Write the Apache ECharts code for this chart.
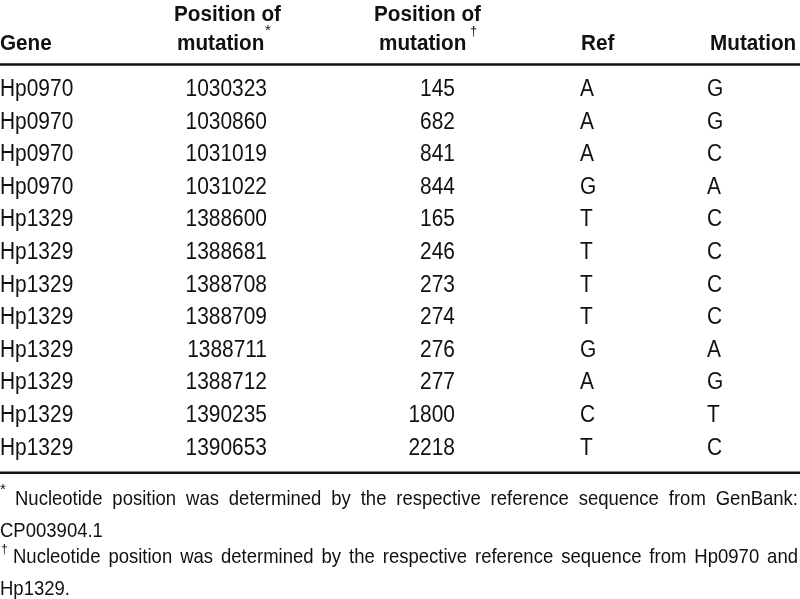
<!DOCTYPE html>
<html>
<head>
<meta charset="utf-8">
<script src="https://cdn.jsdelivr.net/npm/echarts@6/dist/echarts.min.js"></script>
<style>
html,body{margin:0;padding:0;background:#fff;}
#chart{width:800px;height:599px;}
</style>
</head>
<body>
<div id="chart"></div>
<script>
// ---- Data ----
const genes = ["Hp0970","Hp0970","Hp0970","Hp0970","Hp1329","Hp1329","Hp1329","Hp1329","Hp1329","Hp1329","Hp1329","Hp1329"];
const posGenome = [1030323,1030860,1031019,1031022,1388600,1388681,1388708,1388709,1388711,1388712,1390235,1390653];
const posGene = [145,682,841,844,165,246,273,274,276,277,1800,2218];
const refBase = ["A","A","A","G","T","T","T","T","G","A","C","T"];
const mutBase = ["G","G","C","A","C","C","C","C","A","G","T","C"];
const headers = ["Gene","Position of","mutation","Position of","mutation","Ref","Mutation"];
const footnote1 = ["Nucleotide position was determined by the respective reference sequence from GenBank:", "CP003904.1"];
const footnote2 = ["Nucleotide position was determined by the respective reference sequence from Hp0970 and", "Hp1329."];

// ---- Layout / style ----
const INK = '#111';
const FAM = '"Liberation Sans", Arial, sans-serif';
const BODY_FONT = '23.5px ' + FAM;
const BODY_SX = 0.89;
const HEAD_FONT = 'bold 22.5px ' + FAM;
const HEAD_SX = 0.92;
const NOTE_FONT = '20.8px ' + FAM;
const NOTE_SX = 0.89;

const chart = echarts.init(document.getElementById('chart'), null, {renderer:'canvas'});

function txt(text, x, y, font, sx, align) {
  return {type:'text', silent:true, x:x, y:y, scaleX:sx, scaleY:1,
    style:{text:String(text), x:0, y:0, font:font, fill:INK, align:align || 'left', verticalAlign:'middle'}};
}

const ctx = document.createElement('canvas').getContext('2d');
function justifyLine(text, x0, x1, y) {
  ctx.font = NOTE_FONT;
  const words = text.split(' ');
  const widths = words.map(w => ctx.measureText(w).width * NOTE_SX);
  const total = widths.reduce((a,b)=>a+b,0);
  const gap = (x1 - x0 - total) / (words.length - 1);
  const out = [];
  let x = x0;
  words.forEach((w, k) => {
    out.push(txt(w, x, y, NOTE_FONT, NOTE_SX, 'left'));
    x += widths[k] + gap;
  });
  return out;
}

const graphics = [
  // rules
  {type:'line', silent:true, shape:{x1:0, y1:64.5, x2:800, y2:64.5}, style:{stroke:INK, lineWidth:2.6}},
  {type:'line', silent:true, shape:{x1:0, y1:472.8, x2:800, y2:472.8}, style:{stroke:INK, lineWidth:2.6}},
  // headers
  txt(headers[0], 0, 44, HEAD_FONT, HEAD_SX),
  txt(headers[1], 227.5, 15, HEAD_FONT, HEAD_SX, 'center'),
  txt(headers[2], 177, 44, HEAD_FONT, HEAD_SX),
  txt('*', 265, 31, '15px ' + FAM, 1),
  txt(headers[3], 427.5, 15, HEAD_FONT, HEAD_SX, 'center'),
  txt(headers[4], 379, 44, HEAD_FONT, HEAD_SX),
  txt('\u2020', 470, 31, '13px ' + FAM, 1),
  txt(headers[5], 581, 44, HEAD_FONT, HEAD_SX),
  txt(headers[6], 710, 44, HEAD_FONT, HEAD_SX),
  // footnotes
  txt('*', 0, 490, '15px ' + FAM, 1),
  ...justifyLine(footnote1[0], 15, 798, 499),
  txt(footnote1[1], 0, 531, NOTE_FONT, NOTE_SX),
  txt('\u2020', 1, 550, '12px ' + FAM, 1),
  ...justifyLine(footnote2[0], 13, 798, 557),
  txt(footnote2[1], 0, 589, NOTE_FONT, NOTE_SX)
];

const rowIdx = genes.map((g, i) => String(i));

const option = {
  animation: false,
  backgroundColor: '#fff',
  grid: {left:0, right:0, top:73.2, height:391.2},
  xAxis: {type:'value', min:0, max:800, show:false},
  yAxis: {type:'category', data: rowIdx, inverse:true, show:false, boundaryGap:true},
  series: [{
    type:'custom',
    silent:true,
    data: genes.map((g, i) => [0, i]),
    encode: {x:0, y:1},
    renderItem: function (params, api) {
      const i = params.dataIndex;
      const y = api.coord([0, i])[1];
      const mk = (t, x, align) => ({type:'text', x:x, y:y, scaleX:BODY_SX, scaleY:1,
        style:{text:String(t), x:0, y:0, font:BODY_FONT, fill:INK, align:align, verticalAlign:'middle'}});
      return {type:'group', children:[
        mk(genes[i], 0, 'left'),
        mk(posGenome[i], 267, 'right'),
        mk(posGene[i], 455, 'right'),
        mk(refBase[i], 580, 'left'),
        mk(mutBase[i], 707, 'left')
      ]};
    }
  }],
  graphic: graphics
};
chart.setOption(option);
</script>
</body>
</html>
